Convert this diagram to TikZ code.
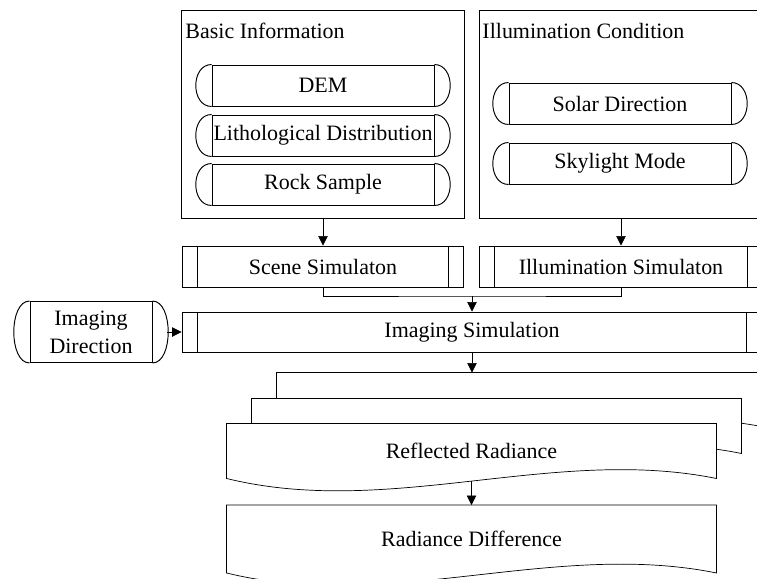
\documentclass[tikz,border=0pt]{standalone}
\usepackage{fontspec}
\setmainfont{Liberation Serif}
\usetikzlibrary{arrows.meta,backgrounds}
\tikzset{txt/.style={font=\fontsize{12.5}{16}\selectfont},
  groupbox/.style={draw,minimum width=5.68cm,minimum height=4.18cm,inner sep=0},
  pillbox/.style={txt,draw,minimum width=4.44cm,minimum height=0.82cm,inner sep=0},
  procbox/.style={txt,draw,minimum height=0.82cm,inner sep=0,
    path picture={\draw ([xshift=0.3cm]path picture bounding box.north west) -- ([xshift=0.3cm]path picture bounding box.south west)
      ([xshift=-0.3cm]path picture bounding box.north east) -- ([xshift=-0.3cm]path picture bounding box.south east);}},
  docbox/.style={txt,minimum width=9.78cm,minimum height=1.08cm,inner sep=0},
  flow/.style={-{Triangle[length=1.9mm,width=1.9mm]}}}

\begin{document}
\begin{tikzpicture}[x=0.02cm,y=-0.02cm,line width=0.55pt]

\useasboundingbox (0,0) rectangle (757,578);
\clip (0,0) rectangle (757,578);

% Input groups
\node[groupbox] (basic) at (323,114.5) {};
\node[groupbox] (illumcond) at (621,114.5) {};
\node[txt,anchor=base west,inner sep=0] (basiclbl) at (185,38) {Basic Information};
\node[txt,anchor=base west,inner sep=0] (illumlbl) at (482,38) {Illumination Condition};

\node[pillbox] (dem) at (323,85.5) {DEM};
\node[pillbox] (litho) at (323,135.5) {Lithological Distribution};
\node[pillbox] (rock) at (323,184.5) {Rock Sample};
\node[pillbox] (solar) at (620,103.5) {Solar Direction};
\node[pillbox] (sky) at (620,163.5) {Skylight Mode};
\node[pillbox,minimum width=2.44cm,minimum height=1.22cm,align=center] (imgdir) at (91,332) {Imaging\\Direction};
% rounded ends of the data boxes
\foreach \n in {dem,litho,rock,solar,sky,imgdir}
  \draw (\n.north west) .. controls +(-0.42cm,0) and +(-0.42cm,0) .. (\n.south west)
        (\n.north east) .. controls +(0.42cm,0) and +(0.42cm,0) .. (\n.south east);

% Simulation steps
\node[procbox,minimum width=5.62cm] (scene) at (323,266.5) {Scene Simulaton};
\node[procbox,minimum width=5.66cm] (illumsim) at (621,266.5) {Illumination Simulaton};
\node[procbox,minimum width=11.6cm,minimum height=0.8cm] (imaging) at (472,332) {Imaging Simulation};

% The stacked documents
\node[docbox] (back) at (521.5,400) {};
\node[docbox] (mid) at (496.5,426) {};
\node[docbox] (front) at (471.5,451) {Reflected Radiance};
\node[docbox,minimum height=1.34cm] (diff) at (471.5,539) {Radiance Difference};
\begin{pgfonlayer}{background}
  \foreach \d in {back,mid,front,diff}
    \draw[fill=white] (\d.north west) -- (\d.north east) -- (\d.south east)
      .. controls +(-163,-33) and +(163,40) .. (\d.south west) -- cycle;
\end{pgfonlayer}

% Connectors
\coordinate (merge) at (472,296);
\draw[flow] (basic.south) -- (scene.north);
\draw[flow] (illumcond.south) -- (illumsim.north);
\draw (scene.south) |- (merge) -| (illumsim.south);
\draw[flow] (merge) -- (imaging.north);
\draw[flow] ([xshift=0.3cm]imgdir.east) -- (imaging.west);
\draw[flow] (imaging.south) -- (imaging.south |- back.north);
\draw[flow] ([yshift=-0.06cm]front.south) -- (diff.north);

\end{tikzpicture}
\end{document}
